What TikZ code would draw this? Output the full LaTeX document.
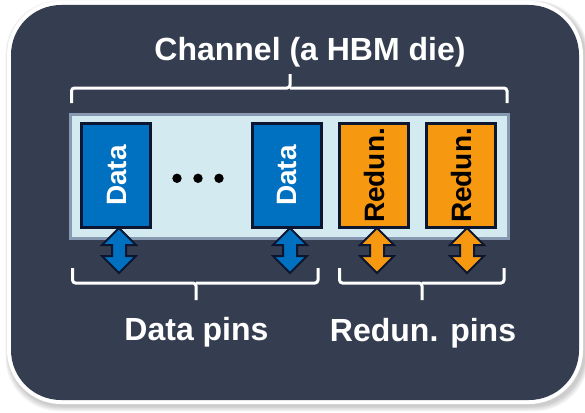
\documentclass[tikz,border=0pt]{standalone}
\usepackage{fontspec}
\setmainfont{Liberation Sans}
\definecolor{panel}{RGB}{53,62,80}
\definecolor{stripfill}{RGB}{210,234,240}
\definecolor{stripline}{RGB}{135,153,176}
\definecolor{datablue}{RGB}{0,112,192}
\definecolor{redunorange}{RGB}{247,152,17}
\definecolor{navy}{RGB}{12,22,48}
\begin{document}
\begin{tikzpicture}[x=1pt,y=-1pt,
  lanebox/.style={draw=navy, line width=3pt, rotate=90,
    minimum width=104pt, minimum height=69pt, inner sep=0pt,
    text height=20pt, text depth=0pt,
    font=\fontsize{28}{32}\selectfont\bfseries},
  databox/.style={lanebox, fill=datablue, text=white},
  redunbox/.style={lanebox, fill=redunorange, text=black},
  brace/.style={draw=white, line width=3pt, rounded corners=3pt},
  caption/.style={text=white, anchor=base, inner sep=0pt,
    font=\fontsize{32}{38}\selectfont\bfseries},
  pinarrow/.pic={
    \path[pic actions, draw=navy, line width=2pt, line join=miter]
      (0,0) -- (17,17) -- (7,17) -- (7,28) -- (17,28) -- (0,45)
      -- (-17,28) -- (-7,28) -- (-7,17) -- (-17,17) -- cycle;
  }]
\useasboundingbox (0,0) rectangle (585,412);

% soft shadow under the panel
\foreach \i in {1,...,6}
  \fill[black, opacity=0.035, rounded corners=54pt]
    (9-\i*0.6,4-\i*0.6) rectangle (585-\i*0.3+\i*0.9,406+\i*0.9);
% white rim and dark panel
\fill[white, rounded corners=54pt] (7,1) rectangle (583,404);
\fill[panel, rounded corners=50pt] (11,5) rectangle (579,400);

% channel strip
\draw[stripline, fill=stripfill, line width=3pt]
  (70.5,114.5) rectangle (508.5,238.5);

% lanes
\node[databox]  (d1) at (116,175.5)   {Data};
\node[databox]  (d2) at (286.5,175.5) {Data};
\node[redunbox] (r1) at (374,175.5)   {Redun.};
\node[redunbox] (r2) at (461,175.5)   {Redun.};

% ellipsis between the data lanes
\foreach \x in {177,198,219}
  \fill[black] (\x,178.3) circle[radius=4.7pt];

% pin arrows under each lane
\pic[fill=datablue]    at (119,228) {pinarrow};
\pic[fill=datablue]    at (290,228) {pinarrow};
\pic[fill=redunorange] at (377,228) {pinarrow};
\pic[fill=redunorange] at (467,228) {pinarrow};

% braces
\draw[brace] (71.5,103) |- (290,88) -- (290,74);
\draw[brace] (507,103) |- (290,88);
\draw[brace] (72.5,268) |- (196,283) -- (196,300);
\draw[brace] (318,268) |- (196,283);
\draw[brace] (339.5,268) |- (422,283) -- (422,300);
\draw[brace] (504,268) |- (422,283);

% captions
\node[caption] (title) at (310,60)  {Channel (a HBM die)};
\node[caption] (dpins) at (196.5,340) {Data pins};
\node[caption] (rpins) at (423,341) {Redun. pins};
\end{tikzpicture}
\end{document}
